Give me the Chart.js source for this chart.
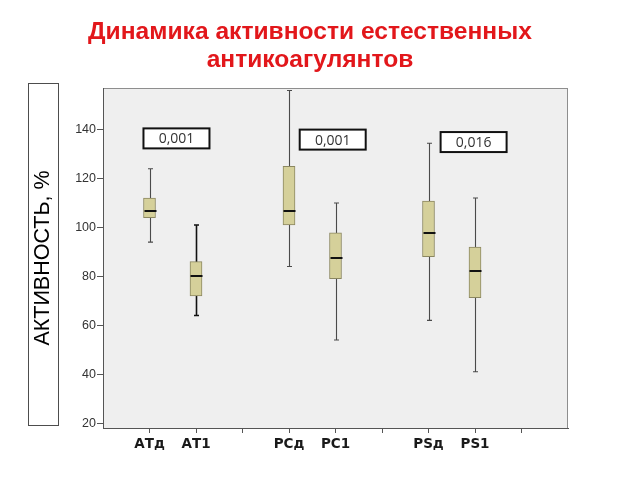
<!DOCTYPE html>
<html>
<head>
<meta charset="utf-8">
<script src="https://cdn.jsdelivr.net/npm/chart.js@4/dist/chart.umd.min.js"></script>
<style>
html, body { margin: 0; padding: 0; background: #fff; }
</style>
</head>
<body>
<canvas id="myChart" width="640" height="480"></canvas>
<script>
// axis categories (empty slots are the gaps between groups)
const categories = ['АТд', 'АТ1', '', 'РСд', 'РС1', '', 'PSд', 'PS1', ''];
const boxNames = ['АТд', 'АТ1', 'РСд', 'РС1', 'PSд', 'PS1'];
const whiskerLow = [94, 64, 84, 54, 62, 41];
const q1 = [104, 72, 101, 79, 88, 71.3];
const median = [106.6, 80, 106.6, 87.6, 97.8, 82.1];
const q3 = [112, 86, 125, 97.8, 110.8, 92];
const whiskerHigh = [124, 101, 156, 110, 134.4, 112];
const pValues = ['0,001', '0,001', '0,016'];
const yTicks = [20, 40, 60, 80, 100, 120, 140];
const titleLines = ['Динамика активности естественных', 'антикоагулянтов'];
const yTitle = 'АКТИВНОСТЬ, %';

const xOf = name => categories.indexOf(name) + 1;

// where the p-value labels sit, in axis units
const pLabelPos = [{ x: 1.58, y: 136.4 }, { x: 4.94, y: 135.9 }, { x: 7.97, y: 134.9 }];

const boxPlugin = {
	id: 'boxplot',
	beforeDraw(chart) {
		const { ctx, chartArea: a } = chart;
		ctx.save();
		ctx.fillStyle = '#efefef';
		ctx.fillRect(a.left, a.top, a.right - a.left, a.bottom - a.top);
		ctx.strokeStyle = '#8e8e8e';
		ctx.lineWidth = 1;
		ctx.strokeRect(a.left + 0.5, a.top + 0.5, a.right - a.left - 1, a.bottom - a.top);
		// title
		ctx.fillStyle = '#e2171b';
		ctx.font = 'bold 24.6px "Liberation Sans", Arial, sans-serif';
		ctx.textAlign = 'center';
		ctx.textBaseline = 'alphabetic';
		ctx.fillText(titleLines[0], 310, 39);
		ctx.fillText(titleLines[1], 310, 67);
		// frame round the y title
		ctx.strokeStyle = '#4d4d4d';
		ctx.strokeRect(28.5, 83.5, 30, 342);
		ctx.restore();
	},
	beforeDatasetsDraw(chart) {
		const { ctx, scales: { x, y } } = chart;
		ctx.save();
		boxNames.forEach((n, i) => {
			const px = Math.round(x.getPixelForValue(xOf(n))) + 0.5;
			const lo = y.getPixelForValue(whiskerLow[i]);
			const hi = y.getPixelForValue(whiskerHigh[i]);
			ctx.strokeStyle = i === 1 ? '#111' : '#4a4a4a';
			ctx.lineWidth = i === 1 ? 1.6 : 1.1;
			ctx.beginPath();
			ctx.moveTo(px, lo); ctx.lineTo(px, hi);
			ctx.moveTo(px - 2.5, lo); ctx.lineTo(px + 2.5, lo);
			ctx.moveTo(px - 2.5, hi); ctx.lineTo(px + 2.5, hi);
			ctx.stroke();
		});
		ctx.restore();
	},
	afterDatasetsDraw(chart) {
		const { ctx, scales: { x, y } } = chart;
		ctx.save();
		ctx.strokeStyle = '#111';
		ctx.lineWidth = 2;
		boxNames.forEach((n, i) => {
			const px = Math.round(x.getPixelForValue(xOf(n))) + 0.5;
			const py = Math.round(y.getPixelForValue(median[i]));
			ctx.beginPath();
			ctx.moveTo(px - 6, py); ctx.lineTo(px + 6, py);
			ctx.stroke();
		});
		// p-value labels
		pValues.forEach((t, i) => {
			const cx = x.getPixelForValue(pLabelPos[i].x);
			const cy = y.getPixelForValue(pLabelPos[i].y);
			ctx.fillStyle = '#fff';
			ctx.fillRect(cx - 33, cy - 10, 66, 20);
			ctx.strokeStyle = '#111';
			ctx.lineWidth = 2;
			ctx.strokeRect(cx - 33, cy - 10, 66, 20);
			ctx.fillStyle = '#333';
			ctx.font = '14px "Open Sans", sans-serif';
			ctx.textAlign = 'center';
			ctx.textBaseline = 'middle';
			ctx.fillText(t, cx, cy + 1);
		});
		ctx.restore();
	}
};

const config = {
	type: 'bar',
	data: {
		datasets: [{
			data: boxNames.map((n, i) => ({ x: xOf(n), y: [q1[i], q3[i]] })),
			backgroundColor: '#d5d09a',
			borderColor: '#8b8760',
			borderWidth: 1,
			borderSkipped: false,
			barThickness: 12,
		}]
	},
	options: {
		responsive: false,
		animation: false,
		layout: { padding: { left: 28, right: 72, top: 88, bottom: 28 } },
		plugins: {
			legend: { display: false },
			tooltip: { enabled: false },
		},
		scales: {
			x: {
				type: 'linear',
				offset: false,
				min: 0,
				max: 10,
				afterBuildTicks: s => { s.ticks = categories.map((c, i) => ({ value: i + 1 })); },
				afterFit: s => { s.height = 24; },
				ticks: {
					autoSkip: false,
					maxRotation: 0,
					padding: 3,
					color: '#1a1a1a',
					font: { family: '"DejaVu Sans"', size: 13.5, weight: 'bold' },
					callback: (v, i) => categories[i],
				},
				grid: { drawOnChartArea: false, offset: false, tickLength: 5, color: '#555' },
				border: { color: '#555' },
			},
			y: {
				min: 18,
				max: 157,
				afterBuildTicks: s => { s.ticks = yTicks.map(v => ({ value: v })); },
				afterFit: s => { s.width = 75; },
				ticks: {
					padding: 1,
					color: '#333',
					font: { family: '"Liberation Sans"', size: 12.5 },
				},
				grid: { drawOnChartArea: false, tickLength: 6, color: '#555' },
				border: { color: '#555' },
				title: {
					display: true,
					text: yTitle,
					color: '#000',
					font: { family: '"Liberation Sans"', size: 21.5 },
					padding: { top: 2, bottom: 0 },
				},
			},
		},
	},
	plugins: [boxPlugin],
};

const ctx = document.getElementById('myChart').getContext('2d');
const myChart = new Chart(ctx, config);
</script>
</body>
</html>
